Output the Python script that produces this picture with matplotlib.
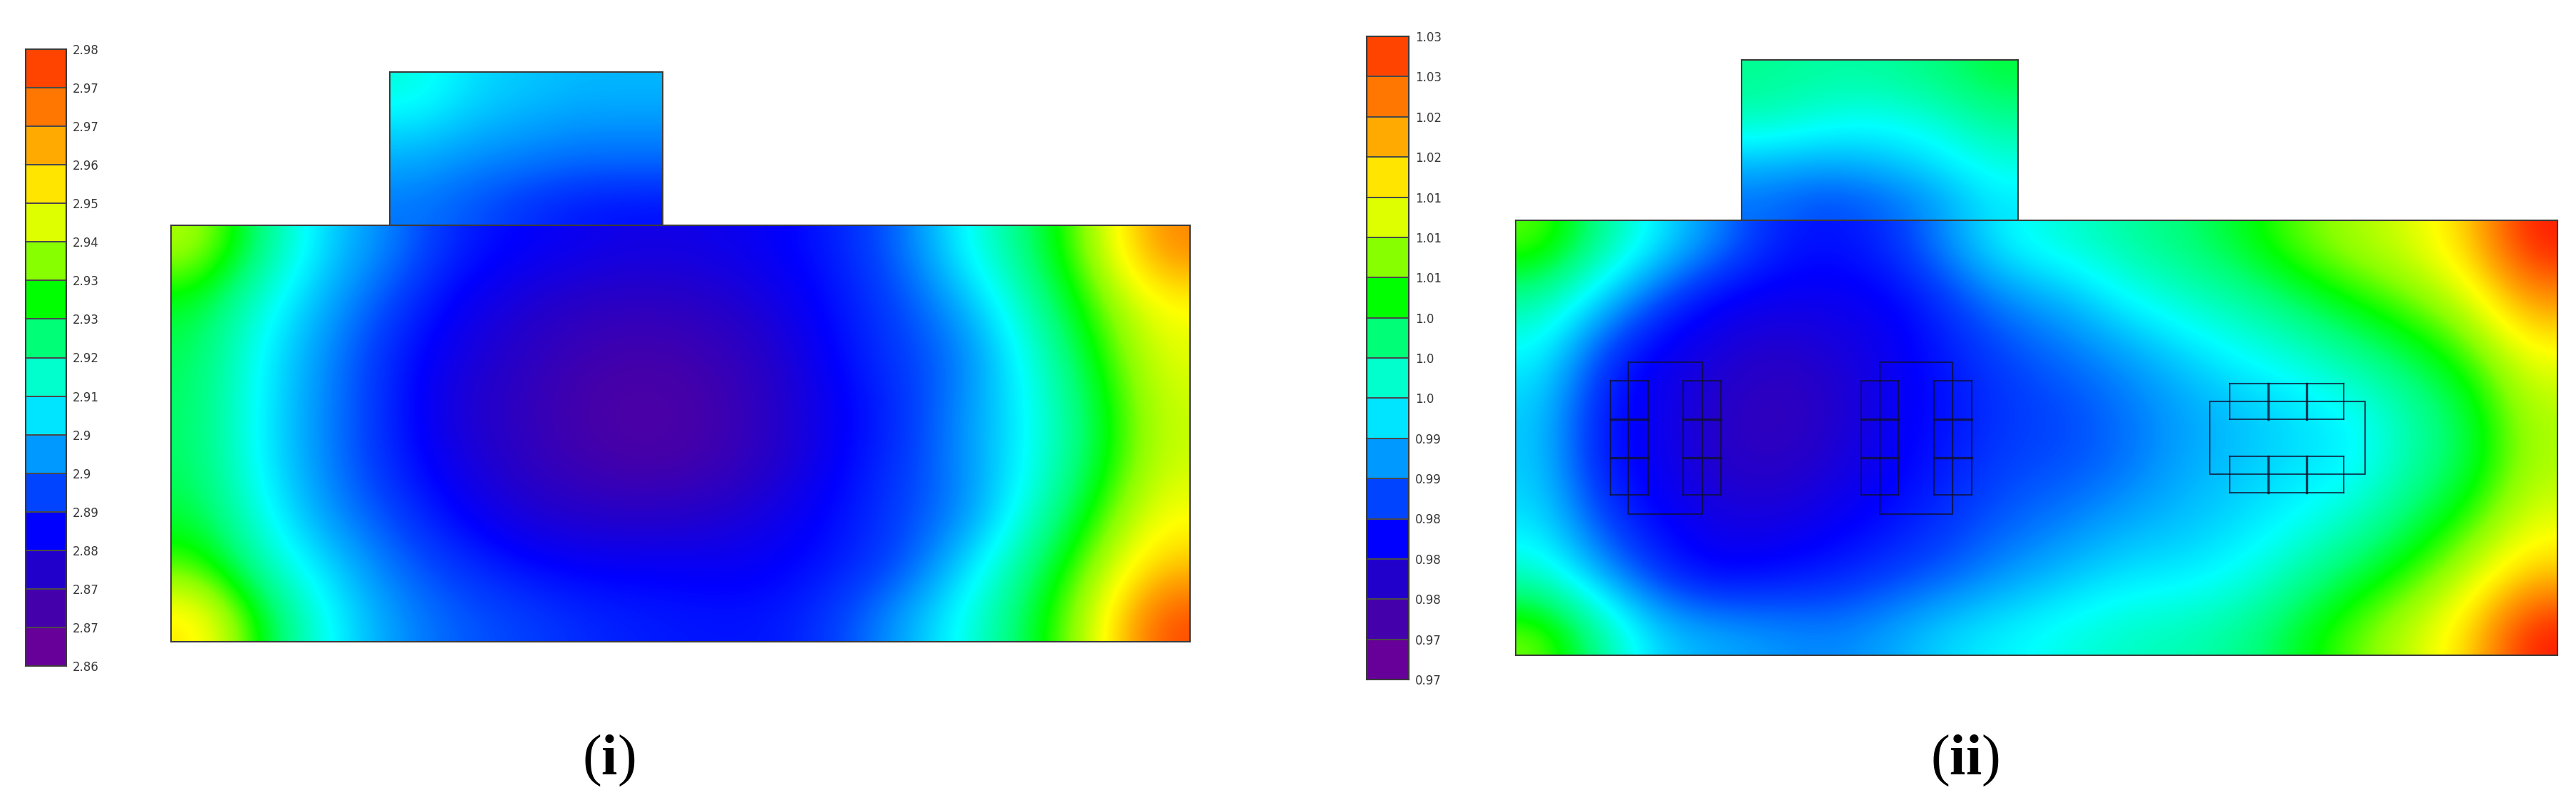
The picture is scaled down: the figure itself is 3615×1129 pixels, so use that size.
import matplotlib
matplotlib.use('Agg')
import matplotlib.pyplot as plt
import numpy as np
from matplotlib.colors import LinearSegmentedColormap, ListedColormap

W, H = 3616, 1129

# colour bar cells, bottom to top
bar_colors = ['#660099', '#4400aa', '#2200cc', '#0000ff', '#0044ff', '#0099ff', '#00e5ff', '#00ffcc',
              '#00ff77', '#00ff00', '#88ff00', '#ddff00', '#ffe500', '#ffaa00', '#ff7700', '#ff4400']
labels_left = ['2.86', '2.87', '2.87', '2.88', '2.89', '2.9', '2.9', '2.91', '2.92',
               '2.93', '2.93', '2.94', '2.95', '2.96', '2.97', '2.97', '2.98']
labels_right = ['0.97', '0.97', '0.98', '0.98', '0.98', '0.99', '0.99', '1.0', '1.0',
                '1.0', '1.01', '1.01', '1.01', '1.02', '1.02', '1.03', '1.03']

# field values, in colour bar cells (0 = bottom, 16 = top)
left_main = [
    [11.0, 8.3, 6.2, 5.2, 4.0, 3.5, 3.2, 3.0, 3.1, 3.4, 4.0, 5.0, 7.0, 8.7, 10.8, 14.3],
    [9.2, 7.2, 5.7, 4.5, 3.4, 2.7, 2.3, 2.2, 2.4, 3.0, 3.8, 4.6, 5.9, 8.0, 10.1, 12.1],
    [8.8, 6.7, 5.3, 4.0, 3.0, 2.3, 1.7, 1.5, 1.8, 2.5, 3.7, 4.4, 5.2, 7.3, 9.5, 11.6],
    [8.7, 6.6, 5.2, 4.0, 2.7, 2.1, 1.4, 1.2, 1.5, 2.4, 3.4, 4.2, 5.5, 7.0, 9.0, 11.3],
    [8.7, 6.6, 5.2, 4.0, 3.0, 2.2, 1.6, 1.3, 1.6, 2.4, 3.5, 4.3, 5.5, 7.0, 9.0, 11.3],
    [9.0, 7.0, 5.4, 4.5, 3.5, 2.7, 2.4, 2.3, 2.5, 3.0, 3.7, 4.5, 5.3, 7.5, 9.7, 11.9],
    [10.0, 7.7, 6.3, 5.0, 4.3, 3.7, 3.4, 3.4, 3.3, 3.4, 3.9, 4.6, 6.4, 8.5, 10.6, 13.0],
    [12.5, 9.2, 6.9, 5.5, 4.8, 4.5, 4.1, 3.9, 3.8, 3.8, 4.5, 5.7, 7.2, 9.1, 11.3, 15.5],
]
left_top = [
    [7.3, 6.4, 6.1, 5.9, 5.9],
    [6.4, 5.9, 5.6, 5.4, 5.4],
    [5.6, 5.2, 5.0, 4.8, 4.8],
    [5.1, 4.7, 4.2, 3.8, 3.7],
]
right_main = [
    [10.2, 8.3, 6.6, 5.3, 4.0, 3.7, 4.2, 5.5, 6.9, 7.4, 8.0, 8.5, 9.2, 10.2, 10.9, 11.5, 13.0, 16.5],
    [8.0, 6.2, 4.5, 3.4, 3.2, 3.2, 3.4, 4.3, 5.3, 5.8, 6.8, 7.5, 8.0, 8.8, 9.6, 10.3, 11.4, 13.9],
    [6.8, 4.4, 3.2, 2.8, 2.3, 2.7, 3.2, 3.9, 4.5, 5.0, 5.5, 6.2, 6.9, 7.4, 8.2, 9.0, 10.0, 11.8],
    [6.2, 3.8, 3.2, 2.4, 1.9, 2.4, 3.3, 3.7, 4.3, 4.5, 5.0, 5.6, 6.0, 6.4, 6.9, 8.0, 9.1, 11.0],
    [6.2, 3.8, 3.3, 2.4, 2.2, 2.7, 3.4, 3.9, 4.5, 4.6, 5.0, 5.7, 6.1, 6.5, 6.7, 8.0, 9.0, 10.9],
    [6.5, 4.5, 3.5, 3.0, 2.9, 3.3, 3.7, 4.3, 4.8, 5.2, 5.7, 6.0, 6.4, 6.9, 7.7, 8.8, 9.9, 11.6],
    [7.5, 5.7, 4.2, 3.4, 3.7, 3.9, 4.4, 4.8, 5.5, 6.0, 6.5, 6.6, 7.0, 8.0, 9.0, 9.9, 11.3, 13.0],
    [10.4, 8.2, 6.2, 5.8, 5.5, 5.3, 5.7, 6.4, 6.8, 7.2, 7.6, 7.8, 8.2, 9.2, 10.2, 11.3, 12.8, 16.5],
]
right_top = [
    [8.2, 8.0, 8.0, 8.4, 9.0],
    [7.7, 7.2, 7.0, 7.4, 8.2],
    [6.0, 5.8, 6.0, 6.5, 7.3],
    [5.0, 4.5, 4.8, 5.5, 6.6],
]

# outlines in the right panel: (x0, y0, x1, y1) in picture pixels
frames = [(2285, 508, 2389, 721), (2638, 508, 2740, 721), (3101, 563, 3319, 665)]
cell_columns_x = [(2260, 2313), (2362, 2415), (2612, 2664), (2714, 2767)]
cell_columns_y = [534, 588, 642, 694]
cell_rows_x = [3129, 3183, 3237, 3289]
cell_rows_y = [(538, 588), (640, 691)]

plt.rcParams['font.family'] = ['Liberation Serif', 'DejaVu Sans']
plt.rcParams['mathtext.fontset'] = 'custom'
plt.rcParams['mathtext.bf'] = 'Liberation Serif:bold'

# smooth map for the fields, with the pure cyan and yellow the cells skip
nodes = [(i + 0.5, c) for i, c in enumerate(bar_colors)]
nodes += [(0, '#660099'), (6.9, '#00ffff'), (12.0, '#ffff00'), (17, '#ff0000')]
nodes.sort(key=lambda n: n[0])
field_cmap = LinearSegmentedColormap.from_list('field', [(p / 17, c) for p, c in nodes], N=512)

fig = plt.figure(figsize=(W / 100, H / 100), dpi=100, facecolor='white')


def px_axes(x0, y0, x1, y1):
    ax = fig.add_axes([x0 / W, 1 - y1 / H, (x1 - x0) / W, (y1 - y0) / H])
    ax.set_xticks([])
    ax.set_yticks([])
    for s in ax.spines.values():
        s.set_color('#3c3c3c')
        s.set_linewidth(1.5)
    return ax


def field(x0, y0, x1, y1, values):
    ax = px_axes(x0, y0, x1, y1)
    # image runs a little past the frame so its resampled edge stays hidden
    ax.imshow(values, cmap=field_cmap, vmin=0, vmax=17, aspect='auto',
              extent=(x0 - 4, x1 + 4, y1 + 4, y0 - 4),
              interpolation='bicubic', interpolation_stage='data')
    ax.set_xlim(x0, x1)
    ax.set_ylim(y1, y0)
    return ax


def colorbar(x0, y0, x1, y1, labels):
    ax = px_axes(x0, y0, x1, y1)
    cells = np.arange(len(bar_colors)).reshape(-1, 1)
    ax.pcolormesh(cells, cmap=ListedColormap(bar_colors), edgecolors='#4a4a4a', linewidth=1.2)
    ax.set_xlim(0, 1)
    ax.set_ylim(0, len(bar_colors))
    ax.set_yticks(range(len(labels)), labels, family='DejaVu Sans', fontsize=12, color='#383838')
    ax.yaxis.tick_right()
    ax.tick_params(axis='y', length=0, pad=6.5)


colorbar(36, 69, 93, 934, labels_left)
field(547, 101, 930, 316, left_top)
field(240, 316, 1670, 900, left_main)

colorbar(1918, 51, 1977, 953, labels_right)
field(2444, 84, 2832, 309, right_top)
ax = field(2127, 309, 3589, 919, right_main)

line = dict(color='#101030', linewidth=1.5, alpha=0.75)
heavy = dict(color='#101030', linewidth=2.4, alpha=0.8)
for x0, y0, x1, y1 in frames:
    ax.plot([x0, x1, x1, x0, x0], [y0, y0, y1, y1, y0], **line)
for x0, x1 in cell_columns_x:
    ax.plot([x0, x0], [cell_columns_y[0], cell_columns_y[-1]], **line)
    ax.plot([x1, x1], [cell_columns_y[0], cell_columns_y[-1]], **line)
    ax.plot([x0, x1], [cell_columns_y[0], cell_columns_y[0]], **line)
    ax.plot([x0, x1], [cell_columns_y[-1], cell_columns_y[-1]], **line)
    for y in cell_columns_y[1:-1]:
        ax.plot([x0, x1], [y, y], **heavy)
for y0, y1 in cell_rows_y:
    ax.plot([cell_rows_x[0], cell_rows_x[0]], [y0, y1], **line)
    ax.plot([cell_rows_x[-1], cell_rows_x[-1]], [y0, y1], **line)
    for x in cell_rows_x[1:-1]:
        ax.plot([x, x], [y0, y1], **heavy)
    ax.plot([cell_rows_x[0], cell_rows_x[-1]], [y0, y0], **line)
    ax.plot([cell_rows_x[0], cell_rows_x[-1]], [y1, y1], **line)

fig.text(854 / W, 1 - 1067 / H, r'($\mathbf{i}$)', fontsize=58, ha='center', va='center')
fig.text(2757 / W, 1 - 1067 / H, r'($\mathbf{ii}$)', fontsize=58, ha='center', va='center')

fig.savefig('out.png', dpi=100)
